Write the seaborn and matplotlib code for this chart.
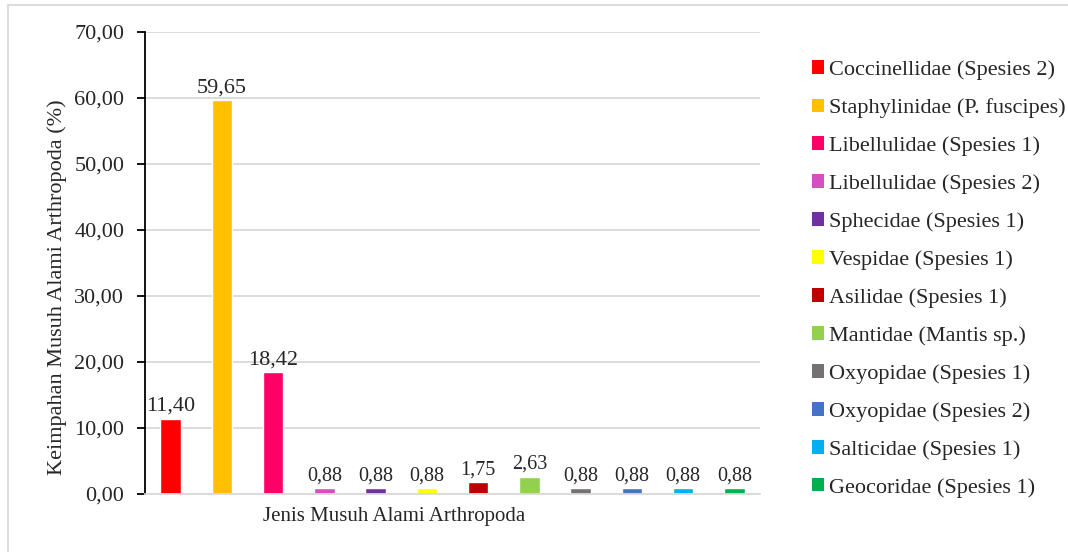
import numpy as np
import pandas as pd
import seaborn as sns
import matplotlib.pyplot as plt
from matplotlib.patches import Patch
from matplotlib.lines import Line2D

# data
families = [
    "Coccinellidae (Spesies 2)",
    "Staphylinidae (P. fuscipes)",
    "Libellulidae (Spesies 1)",
    "Libellulidae (Spesies 2)",
    "Sphecidae (Spesies 1)",
    "Vespidae (Spesies 1)",
    "Asilidae (Spesies 1)",
    "Mantidae (Mantis sp.)",
    "Oxyopidae (Spesies 1)",
    "Oxyopidae (Spesies 2)",
    "Salticidae (Spesies 1)",
    "Geocoridae (Spesies 1)",
]
abundance = [11.40, 59.65, 18.42, 0.88, 0.88, 0.88, 1.75, 2.63, 0.88, 0.88, 0.88, 0.88]
colors = ["#FF0000", "#FFC000", "#FF0066", "#D54FC1", "#7030A0", "#FFFF00",
          "#C00000", "#92D050", "#767171", "#4472C4", "#00B0F0", "#00B050"]

df = pd.DataFrame({"jenis": families, "nilai": abundance})

sns.set_style("white")
plt.rcParams['font.family'] = ['Liberation Serif', 'DejaVu Serif']

fig = plt.figure(figsize=(10.68, 5.52), dpi=100)
ax = fig.add_axes([0.1358, 0.1051, 0.5758, 0.8369])

sns.barplot(data=df, x="jenis", y="nilai", hue="jenis", palette=colors,
            width=0.4, legend=False, ax=ax, saturation=1)

ax.set_ylim(0, 70)
ax.set_yticks(np.arange(0, 71, 10))
ax.set_yticklabels([f"{v:.2f}".replace(".", ",") for v in np.arange(0, 71, 10)], fontsize=16)
ax.set_xticks([])
ax.set_xlim(-0.5, len(families) - 0.5)
ax.yaxis.grid(True, color="#d9d9d9", linewidth=1.3)
ax.set_axisbelow(True)
for s in ["top", "right"]:
    ax.spines[s].set_visible(False)
ax.spines["bottom"].set_color("#d9d9d9")
ax.spines["bottom"].set_linewidth(1.3)
ax.spines["left"].set_color("black")
ax.spines["left"].set_linewidth(1.3)
ax.tick_params(axis="y", which="major", left=True, length=6, width=1.3, color="black", pad=9)

ax.set_ylabel("Keimpahan Musuh Alami Arthropoda (%)", fontsize=16)
ax.yaxis.set_label_coords(-0.127, 0.448)
ax.set_xlabel("Jenis Musuh Alami Arthropoda", fontsize=15)
ax.xaxis.set_label_coords(0.405, -0.029)

for i, v in enumerate(abundance):
    size = 16 if v > 10 else 14.5
    ax.annotate(f"{v:.2f}".replace(".", ","), (i, v), xytext=(0, 2),
                textcoords="offset points", ha="center", va="bottom", fontsize=size)

handles = [Patch(facecolor=c, edgecolor="none") for c in colors]
fig.legend(handles, families, loc="upper left", bbox_to_anchor=(0.752, 0.907),
           frameon=False, fontsize=16, handlelength=0.55, handleheight=0.55,
           handletextpad=0.2, labelspacing=0.82, borderaxespad=0)

# outer chart frame
fig.add_artist(Line2D([8 / 1068, 8 / 1068], [0, 1 - 5 / 552], color="#d9d9d9", linewidth=1.3))
fig.add_artist(Line2D([8 / 1068, 1], [1 - 5 / 552, 1 - 5 / 552], color="#d9d9d9", linewidth=1.3))

fig.savefig("out.png", dpi=100)
